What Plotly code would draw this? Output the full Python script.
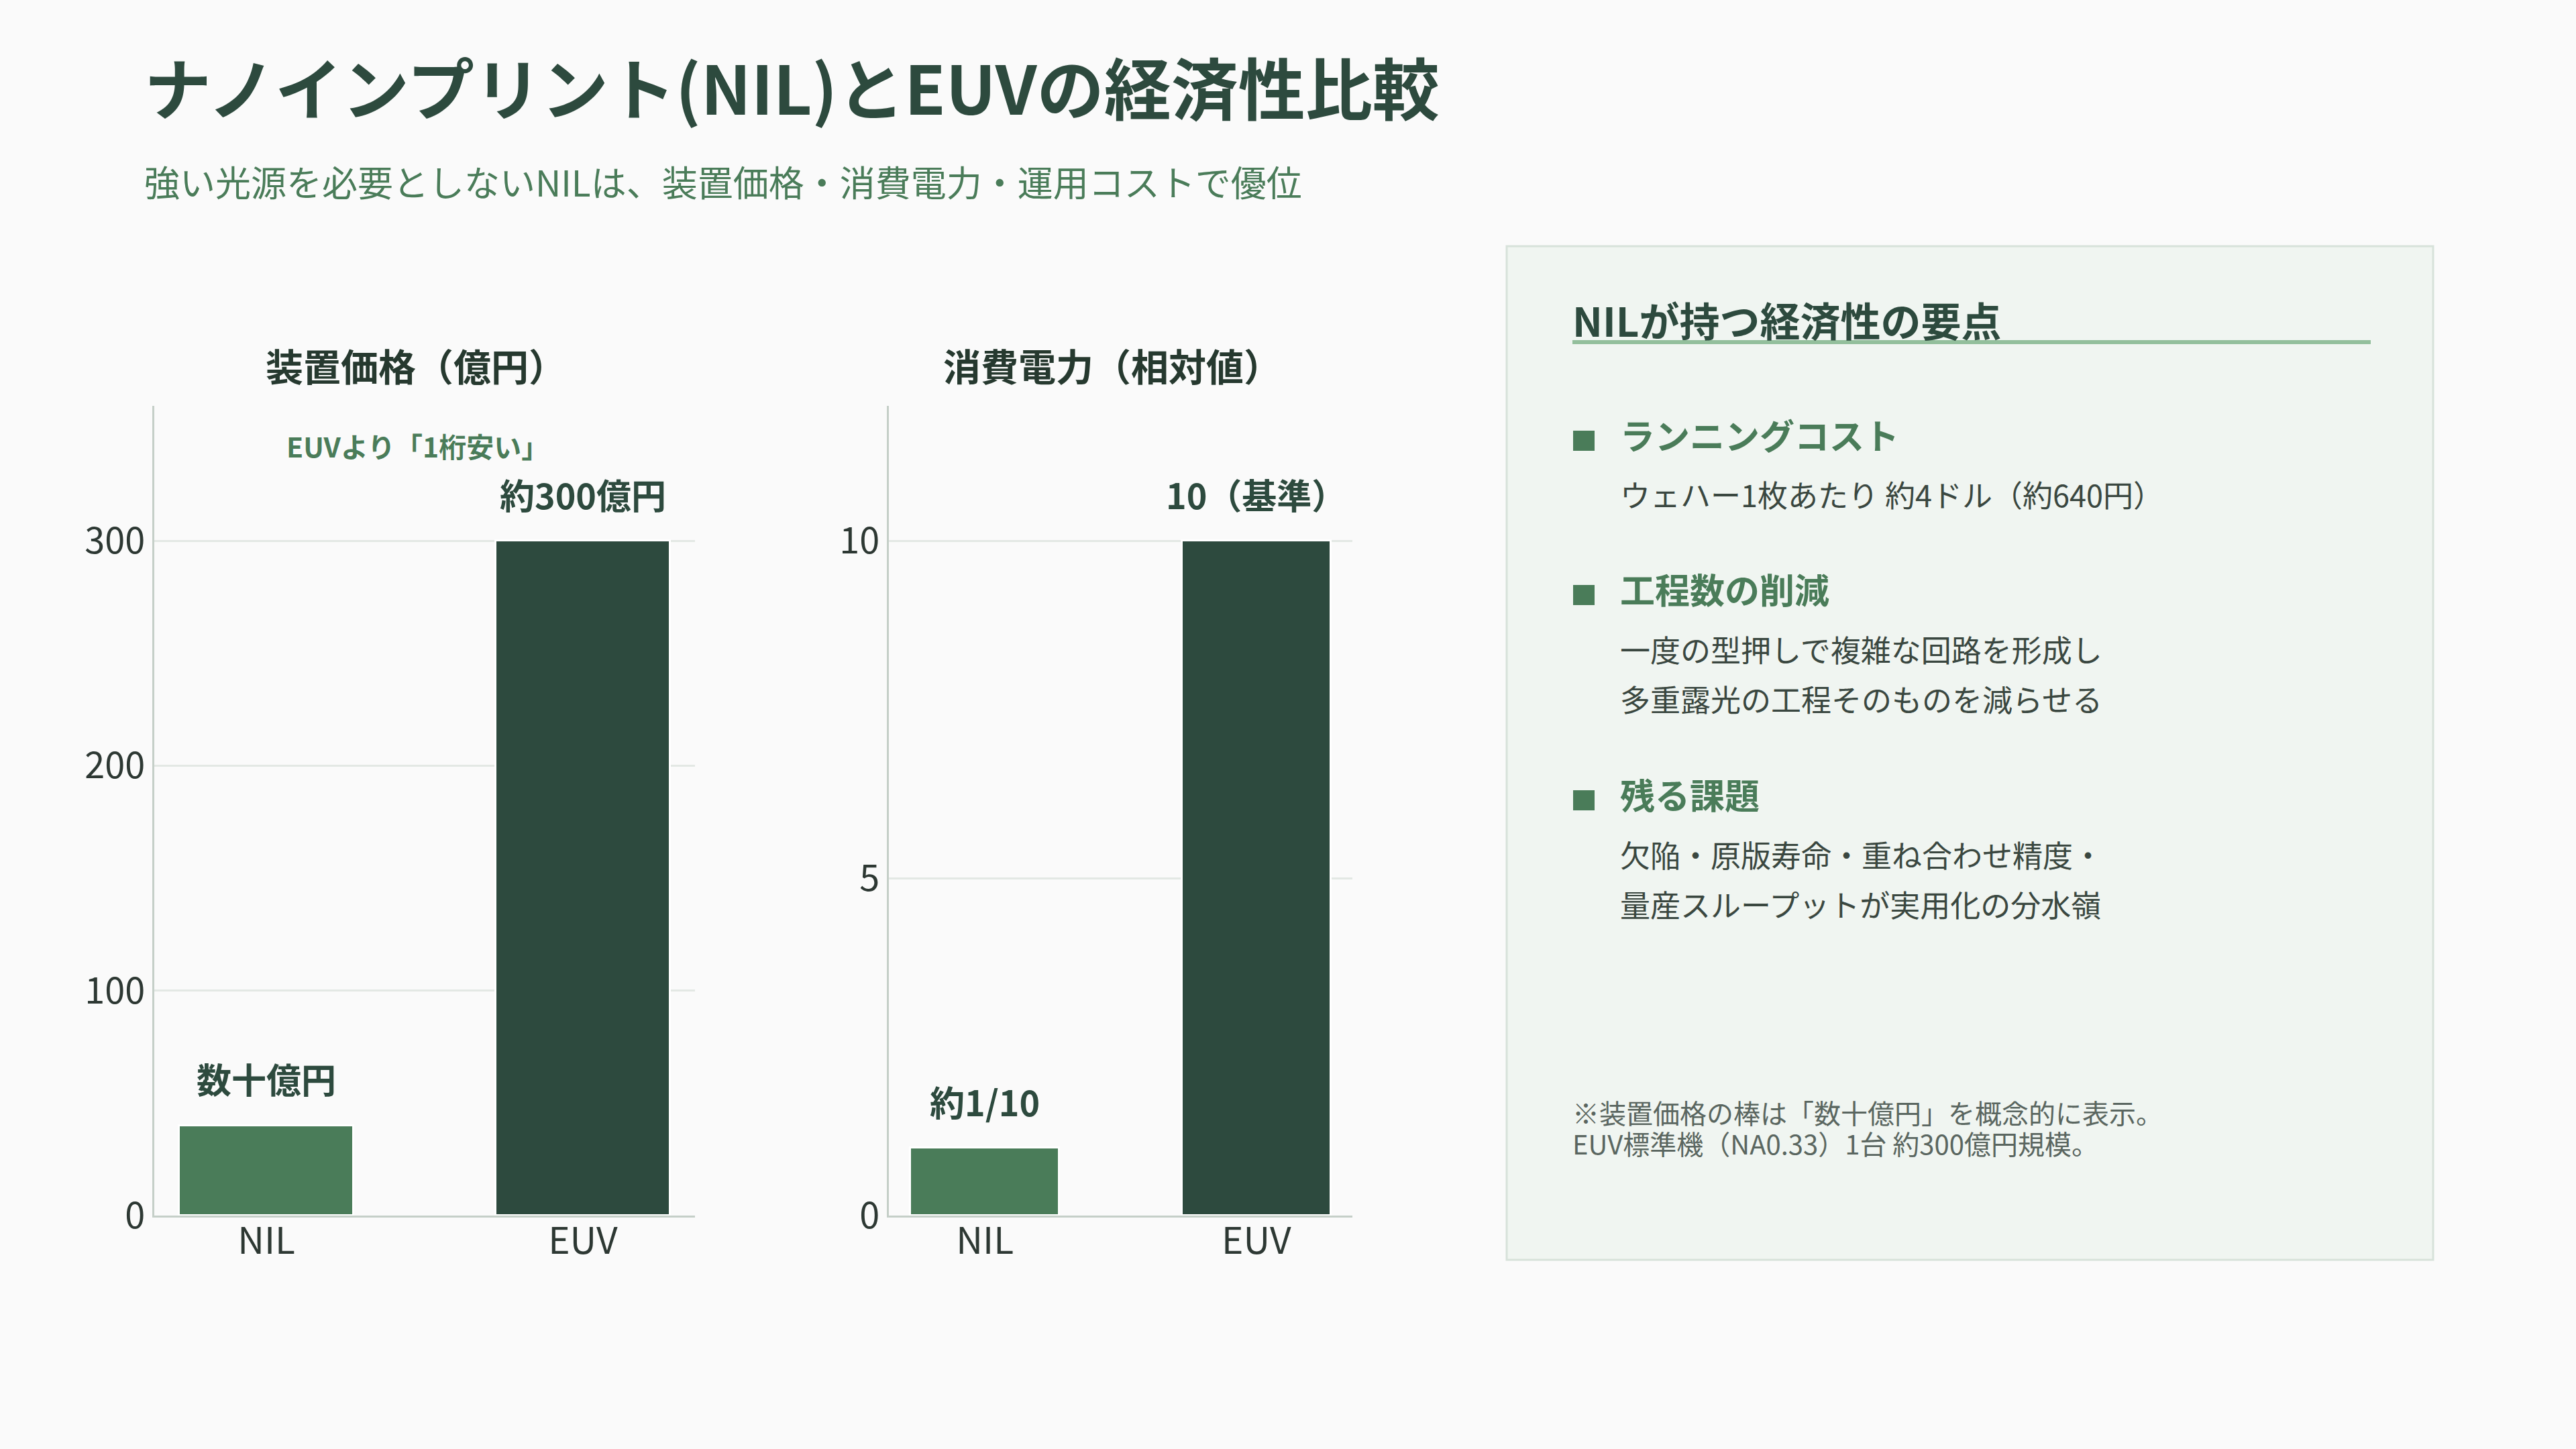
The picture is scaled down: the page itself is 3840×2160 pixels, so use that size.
import plotly.graph_objects as go

W, H = 3840, 2160

# ---- data ----
categories = ["NIL", "EUV"]
price_values = [40, 300]          # 億円 (NIL is conceptual "数十億円")
price_labels = ["数十億円", "約300億円"]
power_values = [1, 10]            # relative
power_labels = ["約1/10", "10（基準）"]
bar_colors = ["#4a7c59", "#2d4a3e"]
price_ticks = [0, 100, 200, 300]
power_ticks = [0, 5, 10]

title_text = "ナノインプリント(NIL)とEUVの経済性比較"
subtitle_text = "強い光源を必要としないNILは、装置価格・消費電力・運用コストで優位"
chart_titles = ["装置価格（億円）", "消費電力（相対値）"]
price_note = "EUVより「1桁安い」"
panel_title = "NILが持つ経済性の要点"
points = [
    ("ランニングコスト", ["ウェハー1枚あたり 約4ドル（約640円）"]),
    ("工程数の削減", ["一度の型押しで複雑な回路を形成し", "多重露光の工程そのものを減らせる"]),
    ("残る課題", ["欠陥・原版寿命・重ね合わせ精度・", "量産スループットが実用化の分水嶺"]),
]
footnote_lines = ["※装置価格の棒は「数十億円」を概念的に表示。", "EUV標準機（NA0.33）1台 約300億円規模。"]

FONT = "Noto Sans CJK JP"
DARK = "#2d4a3e"
GREEN = "#4a7c59"
TEXT = "#26392f"


def px(x):
    return x / W


def py(y):
    return 1 - y / H


fig = go.Figure()

fig.add_trace(go.Bar(x=categories, y=price_values, marker=dict(color=bar_colors, line=dict(color="white", width=3)),
                     width=0.55, xaxis="x", yaxis="y", hoverinfo="skip", showlegend=False))
fig.add_trace(go.Bar(x=categories, y=power_values, marker=dict(color=bar_colors, line=dict(color="white", width=3)),
                     width=0.55, xaxis="x2", yaxis="y2", hoverinfo="skip", showlegend=False))

ydom = [py(1812), py(605)]
axis_common = dict(showgrid=False, showline=True, linecolor="#c5cfc8", linewidth=3, ticks="",
                   tickfont=dict(family=FONT, size=55, color="#2d3833"), range=[-0.354, 1.354],
                   fixedrange=True, automargin=False, ticklabelstandoff=-12)
yaxis_common = dict(showgrid=True, gridcolor="#e3e8e4", gridwidth=3, zeroline=False, showline=True,
                    linecolor="#c5cfc8", linewidth=3, ticks="", tickfont=dict(family=FONT, size=54, color="#2d3833"),
                    fixedrange=True, automargin=False)

fig.update_layout(
    width=W, height=H, margin=dict(l=0, r=0, t=0, b=0, pad=0, autoexpand=False),
    paper_bgcolor="#fafafa", plot_bgcolor="#fafafa",
    xaxis=dict(domain=[px(230), px(1036)], anchor="y", **axis_common),
    yaxis=dict(domain=ydom, anchor="x", range=[0, 360], tickvals=price_ticks, **yaxis_common),
    xaxis2=dict(domain=[px(1325), px(2016)], anchor="y2", **axis_common),
    yaxis2=dict(domain=ydom, anchor="x2", range=[0, 12], tickvals=power_ticks, **yaxis_common),
    bargap=0,
)

ann = []
# bar value labels
for c, v, t in zip(categories, price_values, price_labels):
    ann.append(dict(x=c, y=v, xref="x", yref="y", text=t, showarrow=False, yshift=70, xanchor="center",
                    yanchor="middle", font=dict(family=FONT, size=52, color=DARK, weight="bold")))
for c, v, t in zip(categories, power_values, power_labels):
    ann.append(dict(x=c, y=v, xref="x2", yref="y2", text=t, showarrow=False, yshift=70, xanchor="center",
                    yanchor="middle", font=dict(family=FONT, size=52, color=DARK, weight="bold")))
ann.append(dict(x=px(622), y=py(664), xref="paper", yref="paper", text=price_note, showarrow=False,
                xanchor="center", yanchor="middle", font=dict(family=FONT, size=41, color=GREEN, weight="bold")))

# chart titles
ann.append(dict(x=px(620), y=py(544), xref="paper", yref="paper", text=chart_titles[0], showarrow=False,
                xanchor="center", yanchor="middle", font=dict(family=FONT, size=56, color=TEXT, weight="bold")))
ann.append(dict(x=px(1658), y=py(544), xref="paper", yref="paper", text=chart_titles[1], showarrow=False,
                xanchor="center", yanchor="middle", font=dict(family=FONT, size=56, color=TEXT, weight="bold")))

# main title/subtitle
ann.append(dict(x=px(213), y=py(127), xref="paper", yref="paper", text=title_text, showarrow=False,
                xanchor="left", yanchor="middle", font=dict(family=FONT, size=100, color=DARK, weight="bold")))
ann.append(dict(x=px(213), y=py(270), xref="paper", yref="paper", text=subtitle_text, showarrow=False,
                xanchor="left", yanchor="middle", font=dict(family=FONT, size=53, color=GREEN)))

shapes = []
# panel
shapes.append(dict(type="rect", xref="paper", yref="paper", x0=px(2246), x1=px(3627), y0=py(1878), y1=py(367),
                   fillcolor="#f0f5f1", line=dict(color="#d7e2da", width=3), layer="below"))
ann.append(dict(x=px(2342), y=py(475), xref="paper", yref="paper", text=panel_title, showarrow=False,
                xanchor="left", yanchor="middle", font=dict(family=FONT, size=60, color=DARK, weight="bold")))
shapes.append(dict(type="line", xref="paper", yref="paper", x0=px(2344), x1=px(3534), y0=py(510), y1=py(510),
                   line=dict(color="#93bf9c", width=6)))

head_y = [647, 877, 1183]
for (head, body), hy in zip(points, head_y):
    shapes.append(dict(type="rect", xref="paper", yref="paper", x0=px(2345), x1=px(2377),
                       y0=py(hy + 25), y1=py(hy - 5), fillcolor=GREEN, line=dict(width=0)))
    ann.append(dict(x=px(2413), y=py(hy), xref="paper", yref="paper", text=head, showarrow=False,
                    xanchor="left", yanchor="middle", font=dict(family=FONT, size=52, color=GREEN, weight="bold")))
    for i, line in enumerate(body):
        ann.append(dict(x=px(2413), y=py(hy + 90 + 74 * i), xref="paper", yref="paper", text=line,
                        showarrow=False, xanchor="left", yanchor="middle",
                        font=dict(family=FONT, size=45, color="#3a4740")))

for i, line in enumerate(footnote_lines):
    ann.append(dict(x=px(2342), y=py(1658 + 46 * i), xref="paper", yref="paper", text=line, showarrow=False,
                    xanchor="left", yanchor="middle", font=dict(family=FONT, size=40, color="#5a6660")))

fig.update_layout(annotations=ann, shapes=shapes)
fig.write_html("out.html")
